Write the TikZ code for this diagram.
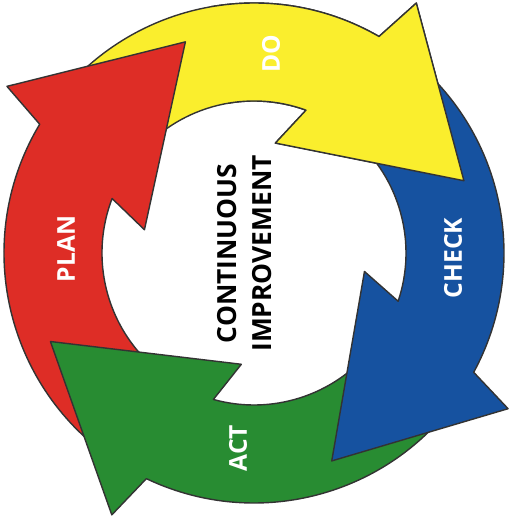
\documentclass[tikz,border=0pt]{standalone}
\usepackage{fontspec}
\setmainfont{Open Sans}
\definecolor{planred}{RGB}{222,45,38}
\definecolor{doyellow}{RGB}{250,238,45}
\definecolor{checkblue}{RGB}{22,82,160}
\definecolor{actgreen}{RGB}{40,140,50}
\tikzset{%
	cycle part/.style={
		draw=black!80,
		line width=0.8pt,
		line join=round
	},
	% #1 = angle of the tip, #2 = angle of the tail
	cycle arrow/.style 2 args={
		insert path={(#2:250) arc[start angle=#2, end angle=#1+41, radius=250]
			-- (#1+38:298) -- (#1:222) -- (#1+60:112) -- (#1+51:152)
			arc[start angle=#1+51, end angle=#2, radius=152] -- cycle}
	},
	step label/.style={
		text=white,
		rotate=90,
		font=\bfseries\fontsize{14}{16}\selectfont
	},
}
\begin{document}
\begin{tikzpicture}[scale=0.02]
			\fill[white] (-254,-272) rectangle (257,253);
			\useasboundingbox (-254,-272) rectangle (257,253);
			
			% Draw the four arrows
			\draw[cycle part, fill=doyellow] [cycle arrow={19}{138}];
			\draw[cycle part, fill=planred] [cycle arrow={108}{233.5}];
			\draw[cycle part, fill=actgreen] [cycle arrow={-156.5}{-39.5}];
			\draw[cycle part, fill=checkblue] [cycle arrow={-69.5}{49}];
			
			% Draw the head of DO again, over the tail of CHECK
			\begin{scope}
				\clip (0,0) -- (10:330) arc[start angle=10, end angle=100, radius=330] -- cycle;
				\draw[cycle part, fill=doyellow] [cycle arrow={19}{138}];
			\end{scope}
			
			% Labels
			\node[step label] (plan) at (-188,4) {PLAN};
			\node[step label] (do) at (17,199) {DO};
			\node[step label] (check) at (199,-5) {CHECK};
			\node[step label] (act) at (-16,-195) {ACT};
			\node[rotate=90, align=center, font=\bfseries\fontsize{15}{20}\selectfont] (improve) at (-9.5,-0.5) {CONTINUOUS\\IMPROVEMENT};
		\end{tikzpicture}
\end{document}
